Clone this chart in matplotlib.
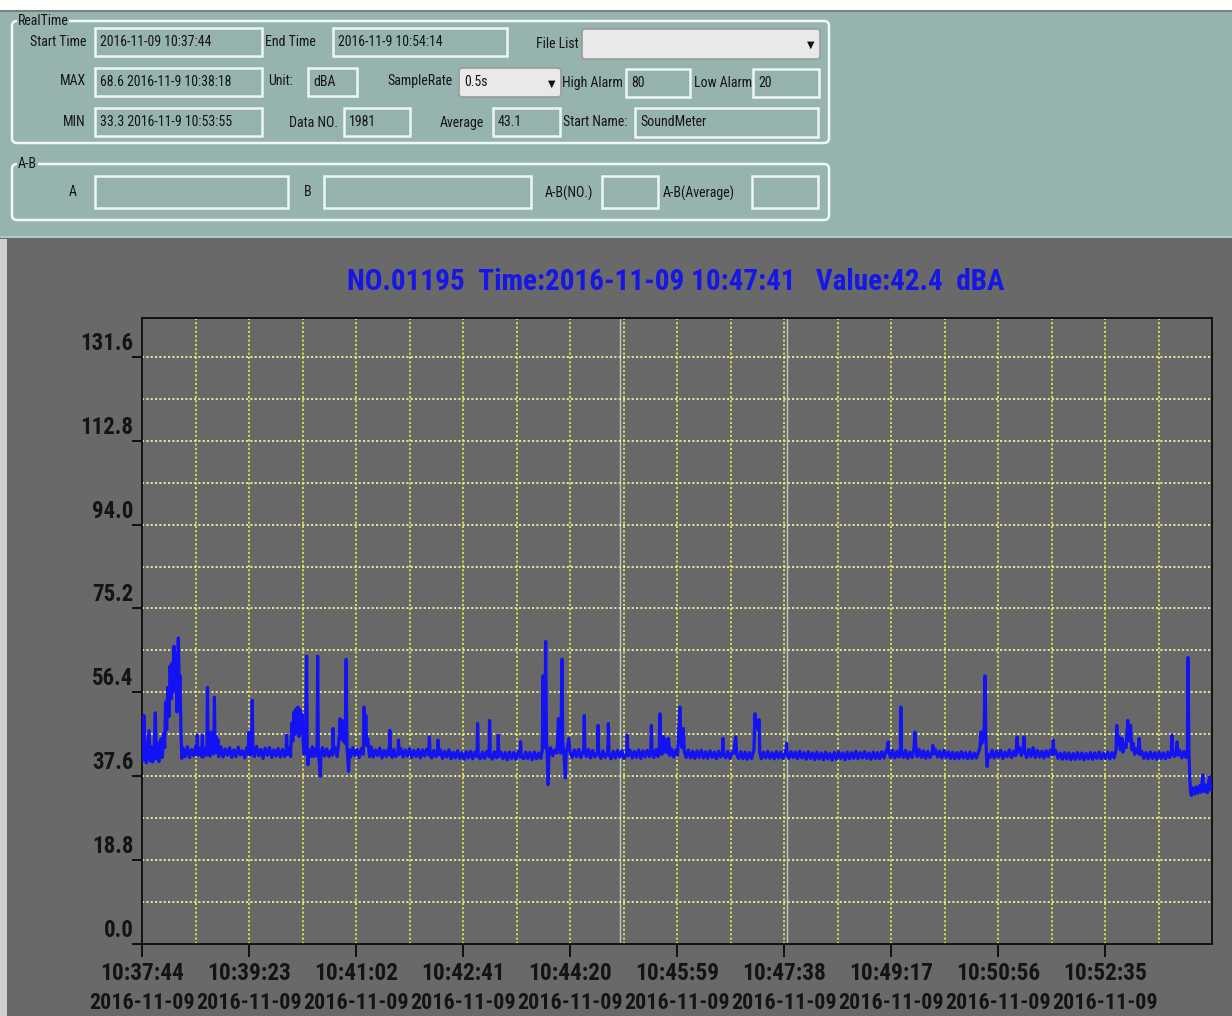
import matplotlib.pyplot as plt
from matplotlib import font_manager
from matplotlib.patches import Rectangle, FancyBboxPatch
from matplotlib.ticker import MultipleLocator
from matplotlib.transforms import ScaledTranslation

# narrow sans if one is installed, otherwise Liberation Sans at a smaller size
faces = font_manager.fontManager.ttflist
names = {f.name for f in faces}
condensed = {f.name for f in faces if str(f.stretch) in ('condensed', 'semi-condensed', 'extra-condensed')}
FAMILY, STRETCH, K = 'Liberation Sans', 'normal', 0.82
for n in ['Roboto Condensed', 'Liberation Sans Narrow', 'Arial Narrow', 'Open Sans Condensed',
          'Noto Sans Condensed', 'DejaVu Sans Condensed']:
    if n in names:
        FAMILY, STRETCH, K = n, 'normal', 1.0
        break
else:
    for n in ['DejaVu Sans', 'Noto Sans', 'Roboto', 'Open Sans']:
        if n in condensed:
            FAMILY, STRETCH, K = n, 'condensed', 0.95
            break
plt.rcParams['font.family'] = [FAMILY, 'DejaVu Sans']
plt.rcParams['font.stretch'] = STRETCH

# sound level log: seconds after 10:37:44, level in dBA (0.5 s sampling, thinned)
sample_t = [
    0, 0.8, 1.8, 2.8, 4, 5.2, 6.5, 7.6, 8.8, 10, 11.2, 12.3, 13.4, 14.5, 15.6, 16.7,
    17.7, 18.8, 20, 21, 21.8, 22.8, 23.8, 25, 26, 27.2, 28, 28.8, 29.6, 30.4, 31.3,
    32.3, 33.6, 34.5, 35.2, 36, 36.8, 38,
    40, 42, 44, 46, 48, 50, 50.6, 51.1, 51.7, 53, 55, 55.9, 56.5, 58, 60, 60.6, 61.1,
    62, 63, 63.8, 64.6, 65.5, 66.3, 67.0, 67.6, 68.4, 69.3, 70.2, 71,
    73, 75, 77, 79, 81, 83, 85, 87, 89, 91, 93, 95, 97, 98.3, 98.8, 99.4, 100.5, 101.4,
    102.0, 102.6, 104, 106, 108, 110, 112, 114, 116, 118, 120, 122, 124, 126, 128, 130,
    132, 133.3, 133.8, 134.4, 136, 137.5, 138.6, 139.5, 140.5, 141.5, 142.5, 143.4,
    144.3, 145.2, 146.2, 147.2, 148.2, 149.2, 150.0, 151.2, 152.3, 152.9, 153.6, 154.5,
    156, 157.5, 159, 160.5, 162, 162.5, 163.1, 163.8, 165.0, 165.6, 167, 169, 171, 173,
    175, 176.3, 176.8, 177.4, 179, 180.5, 182, 183.2, 184.2, 185.3, 186.3, 187.2, 188.0,
    188.9, 189.6, 190.3, 191.1, 191.8, 193, 195, 197, 199, 201, 203, 204.8, 205.5,
    206.2, 207.1, 207.8, 209, 210.5, 212, 214, 216, 218, 220, 222, 224, 226, 228, 228.8,
    229.3, 229.9, 231.5, 233, 235, 236.8, 237.3, 237.9, 239.5, 241.5, 243.5, 245.5,
    247.5, 249.5, 251.5, 253.5, 255.5, 257.5, 259.5, 261.5, 263.5, 265.4, 265.9, 266.5,
    268, 270, 272, 273.4, 273.9, 274.5, 276, 278, 280, 282, 284, 286, 288, 290, 292,
    294, 296, 298, 300, 302, 304, 306, 308, 310.0, 310.5, 311.1, 313, 315, 317, 319,
    321.1, 321.6, 322.2, 324, 326, 328, 329.1, 329.6, 330.2, 332, 334, 336, 338, 340,
    342, 344, 346, 348, 349.8, 350.3, 350.9, 353, 355, 357, 359, 361, 363, 365, 367,
    369, 370.4, 371.0, 371.8, 372.6, 373.5, 374.2, 375.0, 375.8, 376.5, 378, 380, 382,
    384, 385.3, 386.3, 387.5, 388.5, 389.3, 390.5, 391.7, 392.5, 393.8, 394.9, 396, 398,
    400, 402, 404, 406, 408, 408.7, 409.2, 409.8, 411, 413, 415, 417, 419, 421.4, 422.0,
    422.6, 424.5, 426.5, 428.5, 430.9, 431.5, 432.1, 434, 436, 438, 440, 442, 444, 446,
    448.4, 449.0, 449.6, 451.5, 453.5, 455.5, 457.5, 459.5, 461.5, 463.5, 465.5, 467.5,
    469.5, 470.7, 471.3, 471.9, 473.5, 475.5, 477.5, 478.6, 479.2, 479.9, 481, 482.4,
    483.5, 485, 486.2, 487.2, 488.5, 490, 492, 494, 495.5, 496.5, 497.7, 498.5, 499.6,
    500.9, 501.8, 503.5, 505.5, 507.5, 509.5, 511.5, 513.5, 515.5, 517.5, 519.5, 521.5,
    523.5, 525.5, 527.5, 529.5, 531.5, 533.5, 535.5, 537.0, 537.5, 538.1, 540, 542, 544,
    546, 547.8, 548.3, 549.3, 550.2, 552, 554, 556, 558, 560, 562, 564, 566.2, 567.1,
    568, 569.2, 570.2, 570.9, 571.6, 573, 575, 577, 579, 581, 583, 585, 587, 589, 591,
    593, 595, 596.0, 596.4, 597.0, 598.5, 600.5, 602.5, 604.5, 606.5, 608.5, 610.5,
    612.5, 614.5, 616.5, 618.5, 620.5, 622.5, 624.5, 626.5, 628.5, 630.5, 632.5, 634.5,
    636.5, 638.5, 640.5, 642.5, 644.5, 646.5, 648.5, 650.5, 652.5, 654.5, 656.5, 658.5,
    660.5, 662.5, 664.5, 666.5, 668.5, 670.5, 672.5, 674.5, 676.5, 678.5, 680.5, 682.5,
    684.5, 686.5, 688.5, 689.8, 690.3, 690.9, 692.5, 694.5, 696.5, 698.5, 700.5, 701.6,
    702.1, 702.7, 704.5, 706.5, 708.5, 710.5, 712.5, 714.3, 715.1, 715.8, 717, 719, 721,
    723, 725, 727, 729, 731.2, 731.7, 732.3, 734, 736, 738, 740, 742, 744, 746, 748, 750,
    752, 754, 756, 758, 760, 762, 764, 766, 768, 770, 772, 774, 775.3, 776.2, 777.0,
    778.0, 779.2, 780.0, 780.8, 781.4, 782.0, 782.8, 784.5, 786.5, 788.5, 790.5, 792.5,
    794.5, 796.5, 798.5, 800.5, 802.5, 804.5, 806.5, 808.5, 809.7, 810.6, 812, 813.5,
    815.2, 816.0, 816.8, 818.5, 820.5, 822.5, 824.5, 826.5, 828.5, 830.5, 832.5, 834.5,
    836.5, 838.5, 840.5, 842.3, 843.1, 843.8, 845.5, 847.5, 849.5, 851.5, 853.5, 855.5,
    857.5, 859.5, 861.5, 863.5, 865.5, 867.5, 869.5, 871.5, 873.5, 875.5, 877.5, 879.5,
    881.5, 883.5, 885.5, 887.5, 889.5, 891.5, 893.5, 895.5, 897.5, 899.5, 901.2, 901.9,
    902.8, 904, 905.2, 906.7, 907.6, 909, 910.5, 912.1, 913.2, 914.7, 915.8, 917, 918.5,
    920, 921.8, 922.6, 923.3, 925, 927, 929, 931, 933, 935, 937, 939, 941, 943, 945, 947,
    949, 951, 952.3, 952.9, 953.6, 955, 957.0, 957.7, 958.4, 960, 962, 964, 966, 967.2,
    967.8, 968.6, 969.4, 970.2, 971.0, 972.5, 974, 975.5, 977, 978.5, 980, 981.5, 982.5,
    984, 985.5, 987.0, 987.8, 988.6, 990,
]
sample_db = [
    46.5, 41.2, 51.2, 43.0, 40.6, 44.0, 47.8, 41.0, 44.2, 40.8, 43.5, 51.8, 41.5, 45.0, 40.9, 44.8,
    46.0, 41.8, 47.2, 44.0, 54.2, 48.0, 57.5, 51.0, 62.3, 55.0, 63.0, 56.5, 66.7, 58.0, 65.3,
    52.0, 68.6, 57.0, 60.1, 48.0, 41.6, 44.0,
    42.0, 44.2, 41.8, 43.6, 42.2, 44.4, 42.5, 46.8, 42.3, 43.9, 42.0, 46.8, 41.9, 43.8, 42.3, 57.5, 42.5,
    44.0, 42.1, 47.5, 43.0, 45.0, 42.6, 55.3, 44.5, 46.5, 42.8, 45.8, 42.0,
    44.2, 41.9, 43.7, 42.3, 44.0, 41.8, 43.5, 42.0, 44.1, 42.4, 43.3, 41.7, 44.0, 42.5, 47.5, 43.5, 42.3, 44.5,
    54.6, 43.8, 42.0, 44.3, 42.2, 43.6, 41.6, 43.9, 42.3, 44.0, 41.8, 43.5, 42.1, 43.8, 41.9, 43.6,
    42.0, 43.0, 46.8, 42.5, 44.0, 42.0, 49.5, 45.5, 52.0, 47.0, 52.7, 48.5,
    53.1, 46.5, 52.5, 47.5, 51.5, 45.0, 42.5, 44.5, 64.5, 44.0, 40.2, 43.5,
    42.0, 44.2, 42.0, 43.8, 42.2, 64.5, 43.5, 41.5, 37.6, 42.8, 44.0, 42.1, 43.7, 42.0,
    43.4, 42.3, 48.3, 43.0, 44.0, 42.0, 45.0, 50.5, 46.0, 50.1, 45.5, 49.0, 45.0,
    63.8, 44.0, 42.0, 38.7, 43.5, 41.9, 44.0, 42.2, 43.6, 41.8, 43.8, 42.5, 53.1,
    45.5, 51.2, 44.5, 46.0, 42.0, 44.2, 41.9, 43.5, 42.2, 43.9, 41.7, 43.4, 42.0, 43.7, 42.4,
    47.9, 43.2, 41.8, 43.6, 42.0, 43.0, 45.7, 42.5, 43.8, 41.9, 43.5, 42.1,
    43.8, 41.8, 43.4, 42.0, 43.6, 41.7, 43.5, 42.1, 43.7, 42.3, 46.4, 42.8,
    41.7, 43.4, 42.0, 43.0, 45.7, 42.4, 43.5, 41.6, 43.2, 41.9, 43.5, 41.5, 43.0, 41.7, 43.3,
    41.6, 42.9, 41.4, 43.1, 41.7, 43.2, 41.5, 43.0, 42.0, 49.4, 42.3, 41.5, 43.0, 41.6, 43.2,
    42.0, 50.1, 42.5, 41.4, 43.1, 41.7, 42.5, 46.8, 42.0, 43.0, 41.5, 42.9, 41.3, 43.0,
    41.6, 42.9, 41.4, 43.1, 41.9, 45.3, 42.2, 41.5, 43.0, 41.6, 42.9, 41.3, 43.0, 41.5, 42.8,
    41.6, 43.5, 60.1, 48.0, 44.0, 67.8, 46.0, 42.0, 35.7, 42.5, 44.0, 42.2, 43.5,
    42.8, 50.5, 45.0, 42.8, 63.8, 45.0, 42.0, 37.2, 43.0, 44.5, 46.1, 43.0, 41.8,
    43.5, 42.0, 43.6, 41.8, 43.0, 44.0, 51.2, 43.5, 42.0, 43.6, 41.7, 43.4, 41.9, 43.0, 49.0,
    42.8, 41.6, 43.3, 41.8, 43.0, 49.4, 42.5, 41.5, 43.2, 41.7, 43.4, 41.9, 43.3, 41.6,
    42.5, 46.8, 42.2, 43.4, 41.7, 43.2, 41.8, 43.5, 41.6, 43.3, 41.9, 43.4,
    42.0, 43.2, 49.0, 43.5, 41.8, 43.6, 42.0, 44.5, 51.6, 44.0, 42.5, 46.5,
    43.0, 45.8, 42.8, 46.1, 42.2, 43.7, 41.9, 43.5, 42.3, 47.0, 53.1, 46.0, 44.0,
    48.3, 43.0, 41.8, 43.5, 41.7, 43.2, 41.6, 43.3, 41.8, 43.4, 41.7, 43.1,
    41.6, 43.3, 41.8, 43.0, 41.5, 43.2, 41.9, 43.0, 46.1, 42.6, 41.7, 43.2, 41.6,
    43.0, 42.8, 44.5, 46.4, 42.5, 41.6, 43.1, 41.5, 43.0, 41.4, 42.9, 41.6, 43.5, 51.6,
    49.5, 50.0, 48.0, 50.3, 43.0, 41.5, 43.0, 41.7, 43.2, 41.6, 42.9, 41.5, 43.1, 41.7, 43.0,
    41.6, 42.8, 43.5, 45.0, 42.4, 41.6, 43.1, 41.8, 43.0, 41.5, 43.2, 41.7,
    42.9, 41.4, 43.1, 41.6, 42.8, 41.3, 43.0, 41.5, 42.8, 41.3, 43.0, 41.5,
    42.7, 41.2, 42.9, 41.4, 43.1, 41.6, 42.8, 41.3, 43.0, 41.5, 42.9, 41.6,
    43.2, 41.5, 42.9, 41.7, 43.1, 41.6, 42.8, 41.4, 43.0, 41.6, 42.9, 41.5,
    43.1, 41.7, 43.3, 44.0, 45.3, 43.0, 41.8, 43.4, 41.7, 43.2, 41.9, 43.5,
    53.1, 43.5, 41.8, 43.4, 41.6, 43.0, 41.8, 43.8, 47.5, 44.8, 42.0, 43.6, 41.8,
    43.3, 41.6, 43.2, 41.8, 43.0, 44.5, 42.6, 43.6, 41.9, 43.2, 41.7, 43.4, 41.8, 43.1, 41.6, 43.0,
    41.5, 42.9, 41.6, 43.1, 41.7, 42.9, 41.5, 43.0, 41.6, 42.8, 41.7, 43.0, 44.0, 47.5, 45.0,
    46.0, 48.5, 60.1, 46.0, 42.0, 39.8, 42.5, 41.8, 43.4, 41.7, 43.2, 41.9,
    43.4, 41.6, 43.0, 42.0, 43.5, 41.8, 43.2, 42.2, 46.4, 43.0, 44.0, 42.2,
    43.5, 46.4, 43.0, 41.8, 43.6, 42.0, 44.0, 41.8, 43.4, 41.9, 43.2, 41.7,
    43.3, 42.0, 43.5, 42.4, 45.7, 42.6, 43.3, 41.6, 42.8, 41.4, 42.9, 41.5,
    42.8, 41.3, 42.7, 41.4, 42.9, 41.5, 42.8, 41.3, 42.7, 41.5, 42.9, 41.4,
    42.8, 41.6, 43.0, 41.5, 42.8, 41.6, 43.0, 41.5, 42.9, 41.7, 43.5, 49.0,
    44.5, 46.5, 43.5, 46.1, 43.0, 45.0, 44.0, 50.1, 45.5, 49.0, 43.5, 45.0, 42.5,
    43.8, 42.8, 46.1, 42.4, 43.2, 41.6, 42.9, 41.5, 43.0, 41.6, 42.9, 41.4, 43.0, 41.6, 42.8, 41.5,
    43.0, 41.8, 43.0, 46.8, 43.5, 42.0, 43.2, 45.3, 42.3, 43.4, 41.7, 43.2, 41.8, 43.0,
    64.2, 44.0, 37.2, 34.0, 33.3, 35.0, 33.6, 35.2, 33.8, 35.5, 34.0, 37.9, 34.2,
    35.6, 33.9, 36.5, 37.5, 34.5, 35.0,
]

tick_sec = [0, 99, 198, 297, 396, 495, 594, 693, 792, 891]
tick_time = ["10:37:44", "10:39:23", "10:41:02", "10:42:41", "10:44:20",
             "10:45:59", "10:47:38", "10:49:17", "10:50:56", "10:52:35"]
tick_date = ["2016-11-09"] * 10
level_ticks = [0.0, 18.8, 37.6, 56.4, 75.2, 94.0, 112.8, 131.6]

cursor_no = 1195
cursor_stamp = "2016-11-09 10:47:41"
cursor_db = 42.4
cursor_lines = [442, 597]

PANEL = '#97b3b0'
DARK = '#696969'

fig = plt.figure(figsize=(12.32, 10.16), dpi=100, facecolor=DARK)

# ---- control panel drawn in pixel coordinates ----
ui = fig.add_axes([0, 0, 1, 1])
ui.set_xlim(0, 1232)
ui.set_ylim(1016, 0)
ui.axis('off')

ui.add_patch(Rectangle((0, 0), 1232, 11, facecolor='white', edgecolor='none'))
ui.add_patch(Rectangle((0, 11), 1232, 227, facecolor=PANEL, edgecolor='none'))
ui.plot([0, 1232], [11, 11], color='#6f8381', lw=1.5)
ui.plot([0, 1232], [237, 237], color='#b9cecc', lw=1.2)
ui.add_patch(Rectangle((0, 239), 7, 777, facecolor='#cfcfcf', edgecolor='none'))

UI_SIZE = 10 * K


def group(x0, y0, x1, y1, title):
    ui.add_patch(FancyBboxPatch((x0, y0), x1 - x0, y1 - y0,
                                boxstyle='round,pad=0,rounding_size=5',
                                facecolor='none', edgecolor='#eef8f6', lw=1.8))
    ui.text(x0 + 6, y0, title, fontsize=UI_SIZE, ha='left', va='center',
            color='#151515',
            bbox=dict(facecolor=PANEL, edgecolor='none', pad=0.5))


def label(x, y, s, ha='right'):
    ui.text(x, y, s, fontsize=UI_SIZE, ha=ha, va='center', color='#151515')


def field(x0, y0, x1, y1, s=''):
    ui.add_patch(Rectangle((x0, y0), x1 - x0, y1 - y0, facecolor='#95b2ae',
                           edgecolor='#edf8f6', lw=1.8))
    if s:
        ui.text(x0 + 5, (y0 + y1) / 2, s, fontsize=UI_SIZE, ha='left',
                va='center', color='#151515')


def combo(x0, y0, x1, y1, s=''):
    ui.add_patch(FancyBboxPatch((x0, y0), x1 - x0, y1 - y0,
                                boxstyle='round,pad=0,rounding_size=3',
                                facecolor='#e9e9e9', edgecolor='#9a9a9a', lw=1.2))
    if s:
        ui.text(x0 + 5, (y0 + y1) / 2, s, fontsize=UI_SIZE, ha='left',
                va='center', color='#151515')
    ui.text(x1 - 9, (y0 + y1) / 2 + 1, '\u25bc', fontsize=7, ha='center',
            va='center', color='#111111', family='DejaVu Sans')


group(12, 21, 829, 143, 'RealTime')
label(86, 42, 'Start Time')
field(95, 28, 262, 56, '2016-11-09 10:37:44')
label(265, 42, 'End Time', ha='left')
field(333, 28, 507, 56, '2016-11-9 10:54:14')
label(579, 44, 'File List')
combo(582, 29, 820, 59)

label(86, 81, 'MAX')
field(95, 68, 262, 96, '68.6 2016-11-9 10:38:18')
label(268, 81, 'Unit:', ha='left')
field(308, 68, 357, 96, 'dBA')
label(452, 81, 'SampleRate')
combo(459, 68, 561, 97, '0.5s')
label(562, 83, 'High Alarm', ha='left')
field(626, 69, 690, 97, '80')
label(694, 83, 'Low Alarm', ha='left')
field(753, 69, 819, 97, '20')

label(85, 122, 'MIN')
field(95, 108, 262, 136, '33.3 2016-11-9 10:53:55')
label(338, 123, 'Data NO.')
field(344, 108, 410, 136, '1981')
label(484, 123, 'Average')
field(493, 108, 560, 136, '43.1')
label(563, 122, 'Start Name:', ha='left')
field(635, 108, 818, 137, 'SoundMeter')

group(12, 164, 829, 220, 'A-B')
label(73, 192, 'A', ha='center')
field(95, 176, 288, 208)
label(308, 192, 'B', ha='center')
field(324, 176, 531, 208)
label(545, 193, 'A-B(NO.)', ha='left')
field(602, 176, 658, 208)
label(663, 193, 'A-B(Average)', ha='left')
field(752, 176, 818, 208)

# ---- level chart ----
ax = fig.add_axes([142 / 1232, 72 / 1016, 1070 / 1232, 626 / 1016])
ax.set_facecolor('#686868')
ax.set_xlim(0, 990)
ax.set_ylim(0, 140.3)

ax.set_xticks(tick_sec)
ax.set_xticklabels(tick_time)
ax.xaxis.set_minor_locator(MultipleLocator(49.5))
ax.set_yticks(level_ticks)
ax.set_yticklabels([f"{v:.1f}" for v in level_ticks])
ax.yaxis.set_minor_locator(MultipleLocator(9.4))

ax.grid(which='both', axis='x', color='#e2e24c', ls=(0, (1.2, 1.2)), lw=1.3)
ax.grid(which='both', axis='y', color='#ececa6', ls=(0, (1.2, 1.2)), lw=1.3)
ax.set_axisbelow(True)
for t in cursor_lines:
    ax.axvline(t, color='#c4e6da', lw=1.0, alpha=0.8, zorder=1)

ax.plot(sample_t, sample_db, color='#1212f2', lw=2.3, zorder=3)

for side in ax.spines.values():
    side.set_color('#111111')
    side.set_linewidth(1.4)

ax.tick_params(which='minor', length=0)
ax.tick_params(axis='x', which='major', length=9, width=1.2, pad=4,
               labelsize=16.8 * K, labelcolor='#141414')
ax.tick_params(axis='y', which='major', length=7, width=1.2, pad=-1,
               labelsize=16.5 * K, labelcolor='#141414')
for lbl in ax.get_xticklabels():
    lbl.set_fontweight('bold')
lift = ScaledTranslation(0, 0.16, fig.dpi_scale_trans)
for lbl in ax.get_yticklabels():
    lbl.set_fontweight('bold')
    lbl.set_transform(lbl.get_transform() + lift)

# second row of the time axis: the date under each tick
for t, d in zip(tick_sec, tick_date):
    ax.text(t, -59 / 626, d, transform=ax.get_xaxis_transform(), ha='center',
            va='center', fontsize=15.8 * K, fontweight='bold', color='#141414',
            clip_on=False)

title = f"NO.{cursor_no:05d}  Time:{cursor_stamp}   Value:{cursor_db}  dBA"
fig.text(676 / 1232, 1 - 282 / 1016, title, ha='center', va='center',
         fontsize=21 * K, fontweight='bold', color='#1616e6')

fig.savefig('out.png', dpi=100, facecolor=DARK)
